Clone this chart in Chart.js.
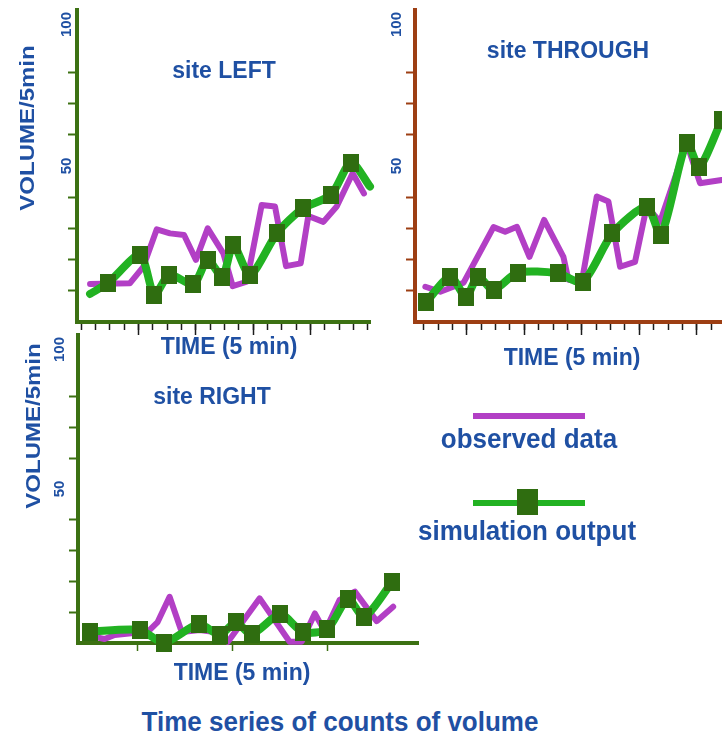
<!DOCTYPE html>
<html>
<head>
<meta charset="utf-8">
<script src="https://cdn.jsdelivr.net/npm/chart.js@4.4.1/dist/chart.umd.min.js"></script>
<style>
  html, body { margin: 0; padding: 0; background: #fff; overflow: hidden; width: 722px; height: 740px; }
  body { position: relative; font-family: "Liberation Sans", Arial, sans-serif; font-weight: bold; color: #1f50a3; }
  canvas { position: absolute; }
  .lbl { position: absolute; white-space: nowrap; line-height: 1; transform: translate(-50%, -50%) scaleY(1.08); }
  .site { font-size: 23px; }
  .time { font-size: 23px; }
  .vol { position: absolute; white-space: nowrap; line-height: 1; font-size: 20px; transform: translate(-50%, -50%) rotate(-90deg) scaleX(1.2); }
  .big { font-size: 26px; }
  .key { position: absolute; }
</style>
</head>
<body>
<canvas id="leftChart" width="380" height="345" style="left:0;top:0"></canvas>
<canvas id="throughChart" width="360" height="345" style="left:380px;top:0"></canvas>
<canvas id="rightChart" width="430" height="345" style="left:0;top:325px"></canvas>

<div class="vol" style="left:27px;top:128px">VOLUME/5min</div>
<div class="vol" style="left:33px;top:426px">VOLUME/5min</div>

<div class="lbl site" style="left:224px;top:70px">site LEFT</div>
<div class="lbl site" style="left:568px;top:50px">site THROUGH</div>
<div class="lbl site" style="left:212px;top:396px">site RIGHT</div>

<div class="lbl time" style="left:229px;top:346px">TIME (5 min)</div>
<div class="lbl time" style="left:572px;top:357px">TIME (5 min)</div>
<div class="lbl time" style="left:242px;top:672px">TIME (5 min)</div>

<div class="key" style="left:473px;top:413px;width:112px;height:6px;background:#b23fc5"></div>
<div class="lbl big" style="left:529px;top:438px">observed data</div>
<div class="key" style="left:473px;top:500px;width:112px;height:6px;background:#22b222"></div>
<div class="key" style="left:517px;top:489px;width:21px;height:26px;background:#2f6d10"></div>
<div class="lbl big" style="left:527px;top:530px">simulation output</div>

<div class="lbl big" style="left:340px;top:721px">Time series of counts of volume</div>

<script>
// x = time in 5-minute steps, y = vehicles per 5 min

// site LEFT
const leftObsX = [0.63, 3.4, 4.34, 5.28, 6.2, 7.18, 8.01, 8.83, 9.92, 10.57, 11.55, 12.59, 13.52, 14.29, 15.31, 15.84, 16.89, 17.82, 18.93, 19.72];
const leftObsY = [12.2, 12.4, 17.7, 29.7, 28.4, 27.9, 19.9, 30.0, 22.0, 11.5, 12.9, 37.5, 37.0, 17.9, 18.8, 34.0, 32.1, 37.0, 47.7, 41.2];
const leftSimX = [0.63, 1.9, 4.11, 5.11, 6.15, 7.83, 8.83, 9.85, 10.61, 11.78, 13.68, 15.45, 17.42, 18.82, 20.14];
const leftSimY = [9.0, 12.6, 21.5, 8.7, 15.1, 12.1, 19.9, 14.5, 24.7, 15.1, 28.6, 36.4, 40.7, 51.1, 43.4];

// site THROUGH
const throughObsX = [0.12, 1.16, 2.78, 4.86, 5.67, 6.49, 7.36, 8.38, 9.72, 10.07, 11.0, 12.04, 12.85, 13.66, 14.7, 15.51, 16.44, 18.29, 19.22, 20.72];
const throughObsY = [11.3, 9.7, 12.6, 30.4, 28.9, 30.5, 20.9, 32.7, 20.9, 13.5, 12.9, 40.2, 38.6, 17.7, 19.3, 37.0, 32.1, 57.3, 44.5, 45.5];
const throughSimX = [0.19, 1.85, 2.94, 3.78, 4.86, 6.53, 9.31, 11.07, 13.13, 15.51, 16.51, 18.29, 19.17, 20.72];
const throughSimY = [6.5, 14.5, 8.1, 14.5, 10.3, 15.8, 15.6, 12.9, 28.4, 37.0, 27.9, 57.5, 49.8, 64.7];

// site RIGHT
const rightObsX = [0.71, 1.24, 1.77, 3.53, 4.04, 4.67, 5.31, 6.26, 7.05, 7.75, 9.42, 11.0, 11.63, 12.33, 12.86, 13.64, 14.44, 15.59, 16.46];
const rightObsY = [2.0, 1.3, 2.6, 3.7, 6.8, 15.0, 3.6, 4.2, 3.6, 0.4, 14.5, 0.4, 0.4, 9.6, 3.7, 14.0, 16.7, 7.1, 11.8];
const rightSimX = [0.45, 3.09, 4.37, 6.22, 7.31, 8.16, 9.0, 10.51, 11.71, 12.99, 14.07, 14.93, 16.42];
const rightSimY = [3.7, 4.2, 0.1, 6.2, 2.6, 6.7, 2.9, 9.3, 3.5, 4.5, 14.3, 8.5, 19.9];

// axis ticks
const yTickMarks = [10, 20, 30, 40, 60, 70, 80];
const yTickLabels = [50, 100];
const leftTimeTicks = [0, 1, 2, 3, 4, 5, 6, 7, 8, 9, 10, 11, 12, 13, 14, 15, 16, 17, 18, 19, 20];
const leftTimeMajor = [4, 8, 12, 16];
const throughTimeTicks = [0, 1, 2, 3, 4, 5, 6, 7, 8, 9, 10, 11, 12, 13, 14, 15, 16, 17, 18, 19, 20, 21];
const throughTimeMajor = [3, 7, 11, 15, 19];
const rightTimeTicks = [3, 8, 13];

const AXIS_GREEN = "#3c7113";
const AXIS_BROWN = "#9d3e13";
const TICK_DARK = "#1c1c1c";
const OBS_COLOR = "#b23fc5";
const SIM_COLOR = "#22b222";
const MARK_COLOR = "#2f6d10";
const TEXT_BLUE = "#1f50a3";

// square marker for the simulation series
const marker = document.createElement("canvas");
marker.width = 16;
marker.height = 18;
const mctx = marker.getContext("2d");
mctx.fillStyle = MARK_COLOR;
mctx.fillRect(0, 0, 16, 18);

const pairs = (xs, ys) => xs.map((x, i) => ({ x: x, y: ys[i] }));

// rotated 50 / 100 labels next to the y axis
const yLabelPlugin = {
    id: "yLabels",
    afterDraw(chart, args, opts) {
        const ctx = chart.ctx;
        const y = chart.scales.y;
        ctx.save();
        ctx.font = 'bold 15px "Liberation Sans", Arial, sans-serif';
        ctx.fillStyle = TEXT_BLUE;
        ctx.textAlign = "center";
        ctx.textBaseline = "middle";
        yTickLabels.forEach((v) => {
            const txt = String(v);
            const half = ctx.measureText(txt).width / 2;
            const py = Math.max(y.getPixelForValue(v), y.top + half + 2);
            ctx.save();
            ctx.translate(y.right - opts.gap, py);
            ctx.rotate(-Math.PI / 2);
            ctx.fillText(txt, 0, 0);
            ctx.restore();
        });
        ctx.restore();
    },
};

function makeChart(id, c) {
    return new Chart(document.getElementById(id), {
        type: "line",
        data: {
            datasets: [
                {
                    label: "simulation output",
                    data: pairs(c.simX, c.simY),
                    borderColor: SIM_COLOR,
                    borderWidth: 8,
                    tension: 0.25,
                    borderJoinStyle: "round",
                    borderCapStyle: "round",
                    pointStyle: marker,
                    pointRadius: (ctx) => (c.bare.includes(ctx.dataIndex) ? 0 : 8),
                    clip: false,
                },
                {
                    label: "observed data",
                    data: pairs(c.obsX, c.obsY),
                    borderColor: OBS_COLOR,
                    borderWidth: 6,
                    tension: 0,
                    borderJoinStyle: "round",
                    borderCapStyle: "round",
                    pointRadius: 0,
                    clip: false,
                },
            ],
        },
        options: {
            responsive: false,
            animation: false,
            events: [],
            layout: { padding: c.pad, autoPadding: false },
            plugins: {
                legend: { display: false },
                tooltip: { enabled: false },
                yLabels: { gap: c.labelGap },
            },
            scales: {
                x: {
                    type: "linear",
                    min: c.xMin,
                    max: c.xMax,
                    afterBuildTicks: (s) => { s.ticks = c.xTicks.map((v) => ({ value: v })); },
                    afterFit: (s) => { s.height = 0; },
                    ticks: { display: false },
                    grid: { drawOnChartArea: false, tickLength: c.minorLen, tickWidth: 1.5, tickColor: c.tickColor },
                    border: { color: c.axisColor, width: 4 },
                },
                xMajor: {
                    type: "linear",
                    axis: "x",
                    position: "bottom",
                    display: c.xMajor.length > 0,
                    min: c.xMin,
                    max: c.xMax,
                    afterBuildTicks: (s) => { s.ticks = c.xMajor.map((v) => ({ value: v })); },
                    afterFit: (s) => { s.height = 0; },
                    ticks: { display: false },
                    grid: { drawOnChartArea: false, tickLength: 13, tickWidth: 1.5, tickColor: c.tickColor },
                    border: { display: false },
                },
                y: {
                    type: "linear",
                    min: 0,
                    max: 100,
                    afterBuildTicks: (s) => { s.ticks = yTickMarks.map((v) => ({ value: v })); },
                    afterFit: (s) => { s.width = c.yWidth; },
                    ticks: { display: false },
                    grid: { drawOnChartArea: false, tickLength: 9, tickWidth: 2, tickColor: c.axisColor },
                    border: { color: c.axisColor, width: 4 },
                },
            },
        },
        plugins: [yLabelPlugin],
    });
}

makeChart("leftChart", {
    simX: leftSimX, simY: leftSimY, obsX: leftObsX, obsY: leftObsY,
    bare: [0, leftSimX.length - 1],
    xMin: -0.28, xMax: 20.14,
    xTicks: leftTimeTicks, xMajor: leftTimeMajor, minorLen: 8,
    axisColor: AXIS_GREEN, tickColor: TICK_DARK,
    yWidth: 77, labelGap: 10,
    pad: { top: 10, right: 10, bottom: 23, left: 0 },
});

makeChart("throughChart", {
    simX: throughSimX, simY: throughSimY, obsX: throughObsX, obsY: throughObsY,
    bare: [],
    xMin: -0.6, xMax: 22.0,
    xTicks: throughTimeTicks, xMajor: throughTimeMajor, minorLen: 8,
    axisColor: AXIS_BROWN, tickColor: TICK_DARK,
    yWidth: 35, labelGap: 18,
    pad: { top: 10, right: 0, bottom: 23, left: 0 },
});

makeChart("rightChart", {
    simX: rightSimX, simY: rightSimY, obsX: rightObsX, obsY: rightObsY,
    bare: [],
    xMin: -0.16, xMax: 17.77,
    xTicks: rightTimeTicks, xMajor: [], minorLen: 8,
    axisColor: AXIS_GREEN, tickColor: AXIS_GREEN,
    yWidth: 78, labelGap: 18,
    pad: { top: 10, right: 12, bottom: 27, left: 0 },
});
</script>
</body>
</html>
